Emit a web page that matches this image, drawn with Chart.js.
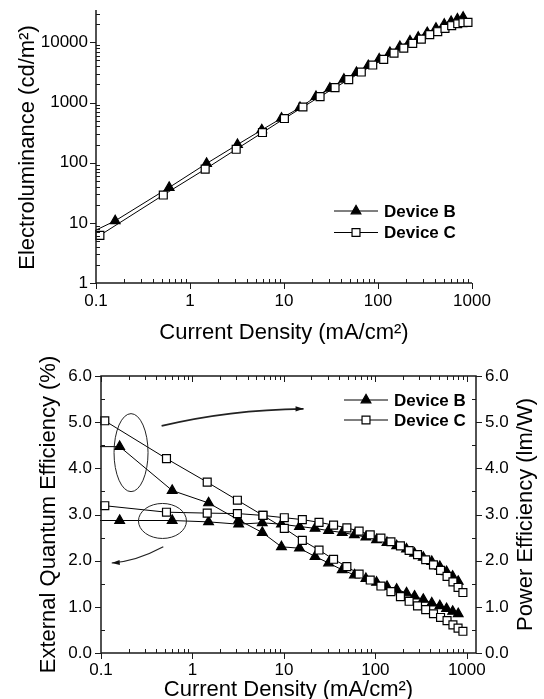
<!DOCTYPE html>
<html>
<head>
<meta charset="utf-8">
<title>Device B / Device C</title>
<script src="https://cdn.jsdelivr.net/npm/chart.js@4.4.0/dist/chart.umd.min.js"></script>
<style>
    html, body { margin: 0; padding: 0; background: #fff; overflow: hidden; }
    #wrap { position: relative; width: 544px; height: 699px; overflow: hidden; }
    canvas { position: absolute; left: 0; }
    #elChart { top: 0; }
    #effChart { top: 350px; }
</style>
</head>
<body>
<div id="wrap">
    <canvas id="elChart" width="544" height="350"></canvas>
    <canvas id="effChart" width="544" height="354"></canvas>
</div>
<script>
const FONT = '"Liberation Sans", Arial, Helvetica, sans-serif';

// Tick labels
const xTicks = [0.1, 1, 10, 100, 1000];
const lumTicks = [1, 10, 100, 1000, 10000];
const effTicks = [0, 1, 2, 3, 4, 5, 6];

// Current density (mA/cm2) of each measured point
const currentB = [0.05, 0.16, 0.6, 1.5, 3.2, 5.8, 9.4, 14.8, 21.9, 30.8, 43.4, 59, 78.8, 103, 134, 171, 219, 268, 334, 414, 507, 600, 700, 805];
const currentC = [0.11, 0.52, 1.45, 3.1, 5.9, 10.1, 15.9, 24.2, 34.9, 48.8, 66.4, 87.9, 115, 148, 188, 234, 289, 355, 432, 516, 608, 705, 802, 906];

// Electroluminance (cd/m2)
const lumB = [4.5, 10.8, 38.7, 97, 200, 350, 548, 824, 1256, 1726, 2433, 3140, 4100, 5280, 6750, 8490, 10500, 12100, 14500, 17100, 19900, 22100, 24400, 26000];
const lumC = [6.2, 29, 78, 167, 317, 542, 843, 1256, 1771, 2404, 3214, 4200, 5220, 6640, 8040, 9620, 11350, 13430, 15060, 17080, 18920, 20420, 21230, 21480];

// External quantum efficiency (%)
const eqeB = [2.87, 2.87, 2.87, 2.84, 2.79, 2.82, 2.79, 2.74, 2.70, 2.65, 2.61, 2.56, 2.51, 2.45, 2.39, 2.32, 2.25, 2.16, 2.07, 1.98, 1.87, 1.76, 1.66, 1.55];
const eqeC = [3.19, 3.05, 3.03, 3.02, 2.98, 2.93, 2.89, 2.83, 2.77, 2.71, 2.64, 2.56, 2.49, 2.41, 2.32, 2.22, 2.13, 2.02, 1.91, 1.79, 1.66, 1.54, 1.42, 1.31];

// Power efficiency (lm/W)
const peB = [4.47, 4.47, 3.52, 3.25, 2.88, 2.61, 2.30, 2.27, 2.09, 1.95, 1.80, 1.69, 1.61, 1.53, 1.44, 1.38, 1.30, 1.23, 1.16, 1.08, 1.02, 0.96, 0.90, 0.85];
const peC = [5.03, 4.21, 3.70, 3.31, 2.98, 2.70, 2.44, 2.23, 2.03, 1.87, 1.71, 1.58, 1.45, 1.33, 1.22, 1.12, 1.02, 0.94, 0.85, 0.77, 0.70, 0.61, 0.54, 0.47];

// Ellipses and arrows pointing at the axis each group belongs to (data coords)
const ellipses = [
    { x: 0.213, y: 4.34, rx: 17, ry: 39 },
    { x: 0.47, y: 2.86, rx: 24, ry: 17.5 }
];
const arrows = [
    { from: [0.46, 4.92], via: [2.5, 5.27], to: [16.4, 5.29], width: 1.8 },
    { from: [0.48, 2.30], via: [0.24, 1.98], to: [0.131, 1.95], width: 1.2 }
];

function logTicks(majors, max) {
    const out = [];
    majors.forEach(m => {
        for (let k = 1; k <= 9; k++) {
            const v = parseFloat((k * m).toPrecision(6));
            if (v <= max) out.push({ value: v, major: k === 1 });
        }
    });
    return out;
}

function linTicks(majors) {
    const out = [];
    majors.forEach((m, i) => {
        out.push({ value: m, major: true });
        if (i < majors.length - 1) out.push({ value: m + 0.5, major: false });
    });
    return out;
}

function series(label, xs, ys, style, axis) {
    const filled = style === 'triangle';
    return {
        label,
        data: xs.map((x, i) => ({ x, y: ys[i] })),
        yAxisID: axis || 'y',
        borderColor: '#000',
        borderWidth: 1,
        pointStyle: style,
        pointRadius: 5.6,
        pointBackgroundColor: filled ? '#000' : '#fff',
        pointBorderColor: '#000',
        pointBorderWidth: 1.2,
        tension: 0,
        fill: false,
        order: filled ? 1 : 0,
        clip: { left: 1, right: 8, top: 8, bottom: 8 }
    };
}

function drawMarker(ctx, style, x, y, r, fill) {
    ctx.beginPath();
    if (style === 'triangle') {
        for (let k = 0; k < 3; k++) {
            const a = k * 2 * Math.PI / 3;
            if (k === 0) ctx.moveTo(x + Math.sin(a) * r, y - Math.cos(a) * r);
            else ctx.lineTo(x + Math.sin(a) * r, y - Math.cos(a) * r);
        }
        ctx.closePath();
    } else {
        const s = r * Math.SQRT1_2;
        ctx.rect(x - s, y - s, 2 * s, 2 * s);
    }
    ctx.fillStyle = fill;
    ctx.fill();
    ctx.lineWidth = 1.2;
    ctx.strokeStyle = '#000';
    ctx.stroke();
}

function seg(ctx, x1, y1, x2, y2) {
    ctx.moveTo(x1, y1);
    ctx.lineTo(x2, y2);
}

// axis lines + tick marks (major out, minor in)
const axisFrame = {
    id: 'axisFrame',
    afterDatasetsDraw(chart, args, opts) {
        const { ctx, chartArea: a, scales } = chart;
        ctx.save();
        ctx.strokeStyle = '#1a1a1a';
        ctx.lineWidth = 1.5;
        ctx.beginPath();
        if (opts.box) {
            ctx.rect(a.left, a.top, a.right - a.left, a.bottom - a.top);
        } else {
            seg(ctx, a.left, a.top - 2, a.left, a.bottom);
            seg(ctx, a.left, a.bottom, a.right, a.bottom);
        }
        ctx.stroke();

        ctx.lineWidth = 1;
        ctx.beginPath();
        scales.x.ticks.forEach(t => {
            const px = Math.round(scales.x.getPixelForValue(t.value)) + 0.5;
            if (t.major) seg(ctx, px, a.bottom + 6, px, a.bottom);
            else seg(ctx, px, a.bottom, px, a.bottom - 4);
            if (opts.box) seg(ctx, px, a.top, px, a.top + (t.major ? 6 : 4));
        });
        scales.y.ticks.forEach(t => {
            const py = Math.round(scales.y.getPixelForValue(t.value)) + 0.5;
            if (t.major) seg(ctx, a.left - 6, py, a.left, py);
            else seg(ctx, a.left, py, a.left + 4, py);
        });
        if (scales.y2) {
            scales.y2.ticks.forEach(t => {
                const py = Math.round(scales.y2.getPixelForValue(t.value)) + 0.5;
                if (t.major) seg(ctx, a.right, py, a.right + 6, py);
                else seg(ctx, a.right - 4, py, a.right, py);
            });
        }
        ctx.stroke();
        ctx.restore();
    }
};

const deviceLegend = {
    id: 'deviceLegend',
    afterDraw(chart, args, opts) {
        const ctx = chart.ctx;
        chart.data.datasets.slice(0, 2).forEach((ds, i) => {
            const y = opts.y + i * opts.rowGap;
            ctx.save();
            ctx.strokeStyle = '#000';
            ctx.lineWidth = 1;
            ctx.beginPath();
            seg(ctx, opts.x, y, opts.x + 44, y);
            ctx.stroke();
            drawMarker(ctx, ds.pointStyle, opts.x + 22, y, ds.pointRadius, ds.pointBackgroundColor);
            ctx.font = 'bold 17px ' + FONT;
            ctx.textBaseline = 'middle';
            ctx.fillStyle = '#000';
            ctx.fillText(ds.label, opts.x + 50, y + 1);
            ctx.restore();
        });
    }
};

const rightTitle = {
    id: 'rightTitle',
    afterDraw(chart, args, opts) {
        const { ctx, chartArea: a } = chart;
        ctx.save();
        ctx.translate(opts.x, (a.top + a.bottom) / 2);
        ctx.rotate(-Math.PI / 2);
        ctx.font = '22px ' + FONT;
        ctx.textAlign = 'center';
        ctx.textBaseline = 'middle';
        ctx.fillStyle = '#000';
        ctx.fillText(opts.text, 0, 0);
        ctx.restore();
    }
};

const groupMarks = {
    id: 'groupMarks',
    afterDraw(chart) {
        const { ctx, scales } = chart;
        const X = v => scales.x.getPixelForValue(v);
        const Y = v => scales.y.getPixelForValue(v);
        ctx.save();
        ctx.strokeStyle = '#222';
        ctx.fillStyle = '#111';
        ctx.lineWidth = 1;
        ellipses.forEach(e => {
            ctx.beginPath();
            ctx.ellipse(X(e.x), Y(e.y), e.rx, e.ry, 0, 0, Math.PI * 2);
            ctx.stroke();
        });
        arrows.forEach(ar => {
            const p0 = [X(ar.from[0]), Y(ar.from[1])];
            const p1 = [X(ar.via[0]), Y(ar.via[1])];
            const p2 = [X(ar.to[0]), Y(ar.to[1])];
            ctx.lineWidth = ar.width;
            ctx.beginPath();
            ctx.moveTo(p0[0], p0[1]);
            ctx.quadraticCurveTo(p1[0], p1[1], p2[0], p2[1]);
            ctx.stroke();
            // arrow head along the end tangent
            const ang = Math.atan2(p2[1] - p1[1], p2[0] - p1[0]);
            ctx.beginPath();
            ctx.moveTo(p2[0], p2[1]);
            ctx.lineTo(p2[0] - 8 * Math.cos(ang) + 2.6 * Math.sin(ang), p2[1] - 8 * Math.sin(ang) - 2.6 * Math.cos(ang));
            ctx.lineTo(p2[0] - 8 * Math.cos(ang) - 2.6 * Math.sin(ang), p2[1] - 8 * Math.sin(ang) + 2.6 * Math.cos(ang));
            ctx.closePath();
            ctx.fill();
        });
        ctx.restore();
    }
};

function logAxis(majors, min, max, pos) {
    return {
        type: 'logarithmic',
        position: pos,
        min: min,
        max: max,
        afterBuildTicks: s => { s.ticks = logTicks(majors, max); },
        grid: { display: false, drawTicks: false },
        border: { display: false },
        ticks: {
            autoSkip: false,
            maxRotation: 0,
            font: { size: 17 },
            color: '#000',
            callback: v => majors.includes(v) ? String(v) : ''
        }
    };
}

function noPad(s) {
    s.paddingTop = 0;
    s.paddingBottom = 0;
    s.paddingLeft = 0;
    s.paddingRight = 0;
}

Chart.defaults.font.family = FONT;
Chart.defaults.color = '#000';

// Electroluminance vs current density
const elX = logAxis(xTicks, 0.1, 1000, 'bottom');
elX.afterFit = s => { s.height = 67; noPad(s); };
elX.ticks.padding = 8;
elX.title = { display: true, text: 'Current Density (mA/cm²)', font: { size: 22 }, color: '#000', padding: { top: 0, bottom: 4 } };

const elY = logAxis(lumTicks, 1, 32000, 'left');
elY.afterFit = s => { s.width = 96; noPad(s); };
elY.ticks.padding = 8;
elY.title = { display: true, text: 'Electroluminance (cd/m²)', font: { size: 22 }, color: '#000', padding: { top: 15, bottom: 0 } };

new Chart(document.getElementById('elChart'), {
    type: 'line',
    data: {
        datasets: [
            series('Device B', currentB, lumB, 'triangle'),
            series('Device C', currentC, lumC, 'rect')
        ]
    },
    options: {
        responsive: false,
        animation: false,
        devicePixelRatio: 1,
        layout: { padding: { left: 0, right: 72, top: 12, bottom: 0 } },
        plugins: {
            legend: { display: false },
            tooltip: { enabled: false },
            axisFrame: { box: false },
            deviceLegend: { x: 334, y: 211, rowGap: 21.5 }
        },
        scales: { x: elX, y: elY }
    },
    plugins: [axisFrame, deviceLegend]
});

// EQE (left) and power efficiency (right) vs current density
const effX = logAxis(xTicks, 0.1, 1260, 'bottom');
effX.afterFit = s => { s.height = 51; noPad(s); };
effX.ticks.padding = 7;
effX.title = { display: true, text: 'Current Density (mA/cm²)', font: { size: 22 }, color: '#000', padding: { top: 0, bottom: 1 } };

function effAxis(pos, width) {
    return {
        type: 'linear',
        position: pos,
        min: 0,
        max: 6,
        afterBuildTicks: s => { s.ticks = linTicks(effTicks); },
        afterFit: s => { s.width = width; noPad(s); },
        grid: { display: false, drawTicks: false },
        border: { display: false },
        ticks: {
            autoSkip: false,
            padding: 9,
            font: { size: 17 },
            color: '#000',
            callback: v => effTicks.includes(v) ? v.toFixed(1) : ''
        }
    };
}

const effY = effAxis('left', 101);
effY.title = { display: true, text: 'External Quantum Efficiency (%)', font: { size: 22 }, color: '#000', padding: { top: 36, bottom: 0 } };
const effY2 = effAxis('right', 68);

new Chart(document.getElementById('effChart'), {
    type: 'line',
    data: {
        datasets: [
            series('Device B', currentB, eqeB, 'triangle', 'y'),
            series('Device C', currentC, eqeC, 'rect', 'y'),
            series('Device B', currentB, peB, 'triangle', 'y2'),
            series('Device C', currentC, peC, 'rect', 'y2')
        ]
    },
    options: {
        responsive: false,
        animation: false,
        devicePixelRatio: 1,
        layout: { padding: { left: 0, right: 0, top: 26, bottom: 0 } },
        plugins: {
            legend: { display: false },
            tooltip: { enabled: false },
            axisFrame: { box: true },
            deviceLegend: { x: 344, y: 50, rowGap: 20 },
            rightTitle: { x: 526, text: 'Power Efficiency (lm/W)' }
        },
        scales: { x: effX, y: effY, y2: effY2 }
    },
    plugins: [axisFrame, deviceLegend, rightTitle, groupMarks]
});
</script>
</body>
</html>
